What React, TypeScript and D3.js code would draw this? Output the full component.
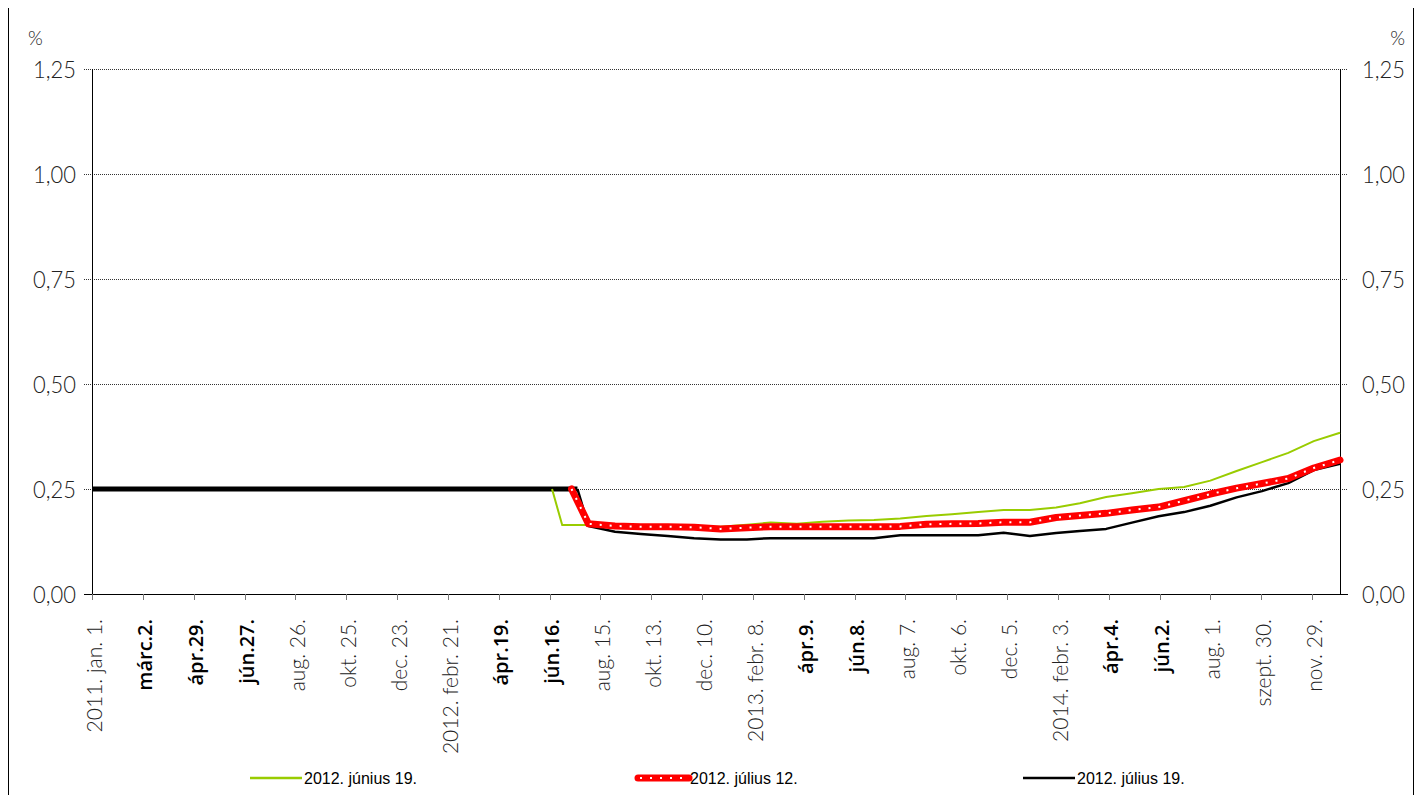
import React, { useEffect, useRef } from "react";
import * as d3 from "d3";

// x axis tick dates and their labels (bold ones marked)
const tickDates = [
  "2011-01-01", "2011-03-02", "2011-04-29", "2011-06-27", "2011-08-26",
  "2011-10-25", "2011-12-23", "2012-02-21", "2012-04-19", "2012-06-16",
  "2012-08-15", "2012-10-13", "2012-12-10", "2013-02-08", "2013-04-09",
  "2013-06-08", "2013-08-07", "2013-10-06", "2013-12-05", "2014-02-03",
  "2014-04-04", "2014-06-02", "2014-08-01", "2014-09-30", "2014-11-29",
];
const tickLabels = [
  "2011. jan. 1.", "márc.2.", "ápr.29.", "jún.27.", "aug. 26.",
  "okt. 25.", "dec. 23.", "2012. febr. 21.", "ápr.19.", "jún.16.",
  "aug. 15.", "okt. 13.", "dec. 10.", "2013. febr. 8.", "ápr.9.",
  "jún.8.", "aug. 7.", "okt. 6.", "dec. 5.", "2014. febr. 3.",
  "ápr.4.", "jún.2.", "aug. 1.", "szept. 30.", "nov. 29.",
];
const boldTicks = [1, 2, 3, 8, 9, 14, 15, 20, 21];
const endDate = "2014-12-31";

const yTicks = [0, 0.25, 0.5, 0.75, 1.0, 1.25];

// historical policy rate (thick black)
const historyDates = ["2011-01-01", "2012-07-19"];
const historyValues = [0.25, 0.25];

// 2012. június 19.
const juneDates = [
  "2012-06-19", "2012-07-01", "2012-08-01", "2012-09-01", "2012-10-01",
  "2012-11-01", "2012-12-01", "2013-01-01", "2013-02-01", "2013-03-01",
  "2013-04-01", "2013-05-01", "2013-06-01", "2013-07-01", "2013-08-01",
  "2013-09-01", "2013-10-01", "2013-11-01", "2013-12-01", "2014-01-01",
  "2014-02-01", "2014-03-01", "2014-04-01", "2014-05-01", "2014-06-01",
  "2014-07-01", "2014-08-01", "2014-09-01", "2014-10-01", "2014-11-01",
  "2014-12-01", "2014-12-31",
];
const juneValues = [
  0.25, 0.164, 0.164, 0.163, 0.163,
  0.162, 0.16, 0.16, 0.165, 0.17,
  0.167, 0.172, 0.175, 0.176, 0.18,
  0.186, 0.19, 0.195, 0.2, 0.2,
  0.206, 0.216, 0.231, 0.24, 0.25,
  0.255, 0.27, 0.293, 0.314, 0.336,
  0.364, 0.384,
];

// 2012. július 12.
const july12Dates = [
  "2012-07-12", "2012-08-01", "2012-09-01", "2012-10-01", "2012-11-01",
  "2012-12-01", "2013-01-01", "2013-02-01", "2013-03-01", "2013-04-01",
  "2013-05-01", "2013-06-01", "2013-07-01", "2013-08-01", "2013-09-01",
  "2013-10-01", "2013-11-01", "2013-12-01", "2014-01-01", "2014-02-01",
  "2014-03-01", "2014-04-01", "2014-05-01", "2014-06-01", "2014-07-01",
  "2014-08-01", "2014-09-01", "2014-10-01", "2014-11-01", "2014-12-01",
  "2014-12-31",
];
const july12Values = [
  0.25, 0.167, 0.162, 0.16, 0.16,
  0.159, 0.155, 0.158, 0.16, 0.16,
  0.16, 0.16, 0.16, 0.161, 0.166,
  0.167, 0.168, 0.171, 0.171, 0.182,
  0.187, 0.192, 0.2, 0.207, 0.222,
  0.238, 0.252, 0.263, 0.275, 0.3,
  0.319,
];

// 2012. július 19.
const july19Dates = [
  "2012-07-19", "2012-08-01", "2012-09-01", "2012-10-01", "2012-11-01",
  "2012-12-01", "2013-01-01", "2013-02-01", "2013-03-01", "2013-04-01",
  "2013-05-01", "2013-06-01", "2013-07-01", "2013-08-01", "2013-09-01",
  "2013-10-01", "2013-11-01", "2013-12-01", "2014-01-01", "2014-02-01",
  "2014-03-01", "2014-04-01", "2014-05-01", "2014-06-01", "2014-07-01",
  "2014-08-01", "2014-09-01", "2014-10-01", "2014-11-01", "2014-12-01",
  "2014-12-31",
];
const july19Values = [
  0.25, 0.162, 0.148, 0.143, 0.138,
  0.133, 0.13, 0.13, 0.133, 0.133,
  0.133, 0.133, 0.133, 0.14, 0.14,
  0.14, 0.14, 0.146, 0.138, 0.145,
  0.15, 0.155, 0.17, 0.185, 0.195,
  0.21, 0.23, 0.245, 0.264, 0.295,
  0.31,
];

const legendLabels = ["2012. június 19.", "2012. július 12.", "2012. július 19."];

const GREEN = "#99cc00";
const RED = "#ff0000";
const LIGHT_FONT = "Lato, 'Open Sans', sans-serif";

interface Pt {
  date: Date;
  value: number;
}

const toPts = (dates: string[], values: number[]): Pt[] =>
  dates.map((d, i) => ({ date: new Date(d + "T00:00:00"), value: values[i] }));

const App: React.FC = () => {
  const svgRef = useRef<SVGSVGElement | null>(null);

  useEffect(() => {
    if (!svgRef.current) return;
    const W = 1408;
    const H = 800;
    const left = 84;
    const right = 1332;
    const top = 61;
    const bottom = 586;
    const lastTick = 1304;

    const svg = d3.select(svgRef.current);
    svg.selectAll("*").remove();

    // outer frame
    svg
      .append("rect")
      .attr("x", 0.5)
      .attr("y", -0.5)
      .attr("width", W - 3)
      .attr("height", H)
      .attr("fill", "white")
      .attr("stroke", "#000")
      .attr("stroke-width", 1);

    // piecewise time scale: ticks are evenly spaced like the original category axis
    const step = (lastTick - left) / (tickDates.length - 1);
    const domain = [...tickDates, endDate].map((d) => new Date(d + "T00:00:00"));
    const range = [...tickDates.map((_, i) => left + i * step), right];
    const x = d3.scaleTime<number>().domain(domain).range(range);

    const y = d3.scaleLinear().domain([0, 1.25]).range([bottom, top]);

    // dotted gridlines
    svg
      .append("g")
      .selectAll("line")
      .data(yTicks.filter((v) => v > 0))
      .join("line")
      .attr("x1", left - 8)
      .attr("x2", right + 8)
      .attr("y1", (d) => Math.round(y(d)) + 0.5)
      .attr("y2", (d) => Math.round(y(d)) + 0.5)
      .attr("stroke", "#333")
      .attr("stroke-width", 1)
      .attr("stroke-dasharray", "1,1");

    // y axes (left and right)
    const axisG = svg.append("g");
    axisG
      .append("line")
      .attr("x1", left + 0.5)
      .attr("x2", left + 0.5)
      .attr("y1", top)
      .attr("y2", bottom)
      .attr("stroke", "#000");
    axisG
      .append("line")
      .attr("x1", right + 0.5)
      .attr("x2", right + 0.5)
      .attr("y1", top)
      .attr("y2", bottom + 1)
      .attr("stroke", "#000");
    axisG
      .append("line")
      .attr("x1", left - 8)
      .attr("x2", right + 8)
      .attr("y1", bottom + 0.5)
      .attr("y2", bottom + 0.5)
      .attr("stroke", "#000");

    const fmt = (v: number) => v.toFixed(2).replace(".", ",");

    axisG
      .selectAll("text.yl")
      .data(yTicks)
      .join("text")
      .attr("class", "yl")
      .attr("x", left - 59)
      .attr("y", (d) => y(d))
      .attr("dy", "0.36em")
      .attr("textLength", 43)
      .attr("lengthAdjust", "spacingAndGlyphs")
      .style("font-family", LIGHT_FONT)
      .style("font-weight", 300)
      .style("font-size", "24px")
      .style("fill", "#222")
      .text(fmt);
    axisG
      .selectAll("text.yr")
      .data(yTicks)
      .join("text")
      .attr("class", "yr")
      .attr("x", right + 22)
      .attr("y", (d) => y(d))
      .attr("dy", "0.36em")
      .attr("textLength", 43)
      .attr("lengthAdjust", "spacingAndGlyphs")
      .style("font-family", LIGHT_FONT)
      .style("font-weight", 300)
      .style("font-size", "24px")
      .style("fill", "#222")
      .text(fmt);

    svg
      .append("text")
      .attr("x", 20)
      .attr("y", 37)
      .style("font-family", LIGHT_FONT)
      .style("font-weight", 300)
      .style("font-size", "19px")
      .style("fill", "#222")
      .text("%");
    svg
      .append("text")
      .attr("x", 1397)
      .attr("y", 37)
      .attr("text-anchor", "end")
      .style("font-family", LIGHT_FONT)
      .style("font-weight", 300)
      .style("font-size", "19px")
      .style("fill", "#222")
      .text("%");

    // x ticks and labels
    const tickG = svg.append("g");
    tickDates.forEach((d, i) => {
      const tx = Math.round(x(new Date(d + "T00:00:00"))) + 0.5;
      tickG
        .append("line")
        .attr("x1", tx)
        .attr("x2", tx)
        .attr("y1", bottom)
        .attr("y2", bottom + 6)
        .attr("stroke", "#777");
      const bold = boldTicks.includes(i);
      tickG
        .append("text")
        .attr("transform", `translate(${tx + 1},${bottom + 25}) rotate(-90)`)
        .attr("text-anchor", "end")
        .attr("dominant-baseline", "central")
        .style("font-family", bold ? "'Open Sans', sans-serif" : LIGHT_FONT)
        .style("font-weight", bold ? 600 : 300)
        .style("font-size", bold ? "20px" : "21px")
        .style("fill", bold ? "#000" : "#222")
        .text(tickLabels[i]);
    });

    const line = d3
      .line<Pt>()
      .x((d) => x(d.date))
      .y((d) => y(d.value));

    const plot = svg.append("g");

    // history (thick black)
    plot
      .append("path")
      .datum(toPts(historyDates, historyValues))
      .attr("fill", "none")
      .attr("stroke", "#000")
      .attr("stroke-width", 5)
      .attr("d", line);

    // June 19 (green)
    plot
      .append("path")
      .datum(toPts(juneDates, juneValues))
      .attr("fill", "none")
      .attr("stroke", GREEN)
      .attr("stroke-width", 2)
      .attr("d", line);

    // July 19 (black)
    plot
      .append("path")
      .datum(toPts(july19Dates, july19Values))
      .attr("fill", "none")
      .attr("stroke", "#000")
      .attr("stroke-width", 2.5)
      .attr("stroke-linejoin", "round")
      .attr("d", line);

    // July 12 (red, white dotted)
    const redPts = toPts(july12Dates, july12Values);
    plot
      .append("path")
      .datum(redPts)
      .attr("fill", "none")
      .attr("stroke", RED)
      .attr("stroke-width", 7)
      .attr("stroke-linecap", "round")
      .attr("stroke-linejoin", "round")
      .attr("d", line);
    plot
      .append("path")
      .datum(redPts)
      .attr("fill", "none")
      .attr("stroke", "#fff")
      .attr("stroke-width", 2)
      .attr("stroke-dasharray", "2,8")
      .attr("d", line);

    // legend
    const legendY = 770;
    const legendX = [242, 628, 1015];
    legendLabels.forEach((lab, i) => {
      const lx = legendX[i];
      const g = svg.append("g");
      if (i === 1) {
        g.append("line")
          .attr("x1", lx + 2)
          .attr("x2", lx + 53)
          .attr("y1", legendY)
          .attr("y2", legendY)
          .attr("stroke", RED)
          .attr("stroke-width", 7)
          .attr("stroke-linecap", "round");
        g.append("line")
          .attr("x1", lx + 4)
          .attr("x2", lx + 53)
          .attr("y1", legendY)
          .attr("y2", legendY)
          .attr("stroke", "#fff")
          .attr("stroke-width", 2)
          .attr("stroke-dasharray", "2,8");
      } else {
        g.append("line")
          .attr("x1", lx)
          .attr("x2", lx + 52)
          .attr("y1", legendY)
          .attr("y2", legendY)
          .attr("stroke", i === 0 ? GREEN : "#000")
          .attr("stroke-width", 2.5);
      }
      g.append("text")
        .attr("x", lx + 54)
        .attr("y", legendY)
        .attr("dy", "0.35em")
        .style("font-family", "'Liberation Sans Narrow', 'Arial Narrow', sans-serif")
        .style("font-size", "16px")
        .style("fill", "#000")
        .text(lab);
    });
  }, []);

  return (
    <div>
      <svg ref={svgRef} width={1408} height={800} style={{ display: "block" }}></svg>
    </div>
  );
};

export default App;
